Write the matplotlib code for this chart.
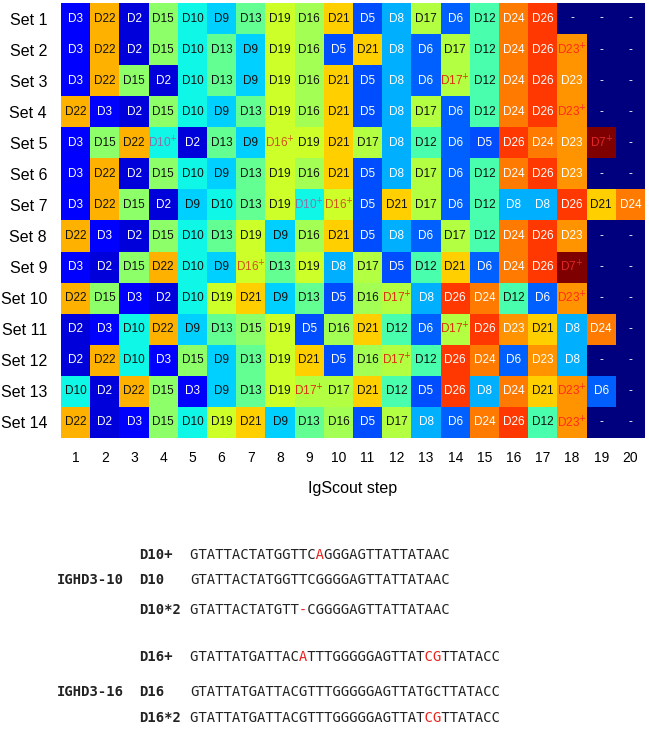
import matplotlib
matplotlib.use("Agg")
import matplotlib.pyplot as plt
import numpy as np

plt.rcParams['font.family'] = ['Liberation Sans', 'DejaVu Sans']

# heatmap data: gene picked at each IgScout step for each set
sets = ['Set %d' % i for i in range(1, 15)]
steps = [str(i) for i in range(1, 21)]

set_genes = [
    ['D3', 'D22', 'D2', 'D15', 'D10', 'D9', 'D13', 'D19', 'D16', 'D21', 'D5', 'D8', 'D17', 'D6', 'D12', 'D24', 'D26', '-', '-', '-'],
    ['D3', 'D22', 'D2', 'D15', 'D10', 'D13', 'D9', 'D19', 'D16', 'D5', 'D21', 'D8', 'D6', 'D17', 'D12', 'D24', 'D26', 'D23+', '-', '-'],
    ['D3', 'D22', 'D15', 'D2', 'D10', 'D13', 'D9', 'D19', 'D16', 'D21', 'D5', 'D8', 'D6', 'D17+', 'D12', 'D24', 'D26', 'D23', '-', '-'],
    ['D22', 'D3', 'D2', 'D15', 'D10', 'D9', 'D13', 'D19', 'D16', 'D21', 'D5', 'D8', 'D17', 'D6', 'D12', 'D24', 'D26', 'D23+', '-', '-'],
    ['D3', 'D15', 'D22', 'D10+', 'D2', 'D13', 'D9', 'D16+', 'D19', 'D21', 'D17', 'D8', 'D12', 'D6', 'D5', 'D26', 'D24', 'D23', 'D7+', '-'],
    ['D3', 'D22', 'D2', 'D15', 'D10', 'D9', 'D13', 'D19', 'D16', 'D21', 'D5', 'D8', 'D17', 'D6', 'D12', 'D24', 'D26', 'D23', '-', '-'],
    ['D3', 'D22', 'D15', 'D2', 'D9', 'D10', 'D13', 'D19', 'D10+', 'D16+', 'D5', 'D21', 'D17', 'D6', 'D12', 'D8', 'D8', 'D26', 'D21', 'D24'],
    ['D22', 'D3', 'D2', 'D15', 'D10', 'D13', 'D19', 'D9', 'D16', 'D21', 'D5', 'D8', 'D6', 'D17', 'D12', 'D24', 'D26', 'D23', '-', '-'],
    ['D3', 'D2', 'D15', 'D22', 'D10', 'D9', 'D16+', 'D13', 'D19', 'D8', 'D17', 'D5', 'D12', 'D21', 'D6', 'D24', 'D26', 'D7+', '-', '-'],
    ['D22', 'D15', 'D3', 'D2', 'D10', 'D19', 'D21', 'D9', 'D13', 'D5', 'D16', 'D17+', 'D8', 'D26', 'D24', 'D12', 'D6', 'D23+', '-', '-'],
    ['D2', 'D3', 'D10', 'D22', 'D9', 'D13', 'D15', 'D19', 'D5', 'D16', 'D21', 'D12', 'D6', 'D17+', 'D26', 'D23', 'D21', 'D8', 'D24', '-'],
    ['D2', 'D22', 'D10', 'D3', 'D15', 'D9', 'D13', 'D19', 'D21', 'D5', 'D16', 'D17+', 'D12', 'D26', 'D24', 'D6', 'D23', 'D8', '-', '-'],
    ['D10', 'D2', 'D22', 'D15', 'D3', 'D9', 'D13', 'D19', 'D17+', 'D17', 'D21', 'D12', 'D5', 'D26', 'D8', 'D24', 'D21', 'D23+', 'D6', '-'],
    ['D22', 'D2', 'D3', 'D15', 'D10', 'D19', 'D21', 'D9', 'D13', 'D16', 'D5', 'D17', 'D8', 'D6', 'D24', 'D26', 'D12', 'D23+', '-', '-'],
]

# position of each gene on the jet colour scale
gene_names = ['-', 'D2', 'D3', 'D5', 'D6', 'D8', 'D9', 'D10', 'D10+', 'D12', 'D13',
              'D15', 'D16', 'D16+', 'D17', 'D17+', 'D19', 'D21', 'D22', 'D23', 'D23+',
              'D24', 'D26', 'D7+']
gene_values = [0.0, 0.08, 0.12, 0.2, 0.22, 0.3, 0.33, 0.37, 0.37, 0.44, 0.47,
               0.52, 0.55, 0.6, 0.57, 0.57, 0.6, 0.69, 0.72, 0.75, 0.75,
               0.78, 0.85, 1.0]
dark_text = ['D9', 'D10', 'D12', 'D13', 'D15', 'D16', 'D17', 'D19', 'D21', 'D22']
plus_text_colors = {'D10+': '#8a72a6', 'D16+': '#d2521e', 'D17+': '#dd3010',
                    'D23+': '#ff2a1a', 'D7+': '#e02828'}

# alignment data
seq_groups = ['IGHD3-10', 'IGHD3-16']
seq_names = [['D10+', 'D10', 'D10*2'], ['D16+', 'D16', 'D16*2']]
seqs = [['GTATTACTATGGTTCAGGGAGTTATTATAAC',
         'GTATTACTATGGTTCGGGGAGTTATTATAAC',
         'GTATTACTATGTT-CGGGGAGTTATTATAAC'],
        ['GTATTATGATTACATTTGGGGGAGTTATCGTTATACC',
         'GTATTATGATTACGTTTGGGGGAGTTATGCTTATACC',
         'GTATTATGATTACGTTTGGGGGAGTTATCGTTATACC']]
red_positions = [[[15], [], [13]], [[13, 28, 29], [], [28, 29]]]

W, H = 649, 731
fig = plt.figure(figsize=(W / 100, H / 100), dpi=100)

ax = fig.add_axes([61 / W, 1 - 438 / H, 584 / W, 435 / H])
lookup = dict(zip(gene_names, gene_values))
grid = np.array([[lookup[g] for g in row] for row in set_genes])
ax.imshow(grid, cmap='jet', vmin=0, vmax=1, aspect='auto', interpolation='nearest')

for i, row in enumerate(set_genes):
    for j, g in enumerate(row):
        if g.endswith('+'):
            label = g[:-1] + r'$^{+}$'
            col = plus_text_colors[g]
        else:
            label = g
            col = '#111111' if g in dark_text else 'white'
        ax.text(j, i, label, ha='center', va='center', fontsize=8.5, color=col)

ax.set_xticks(range(len(steps)))
ax.set_xticklabels(steps, fontsize=10)
ax.set_yticks(range(len(sets)))
ax.set_yticklabels(sets, fontsize=11.5)
ax.tick_params(axis='x', length=0, pad=9)
ax.tick_params(axis='y', length=0, pad=10)
for s in ax.spines.values():
    s.set_visible(False)
ax.set_xlabel('IgScout step', fontsize=11.5, labelpad=12)

# alignment block
mono = 'DejaVu Sans Mono'
row_y = [[555, 580, 610], [657, 692, 718]]
for k in range(2):
    fig.text(57 / W, 1 - row_y[k][1] / H, seq_groups[k], family=mono, weight='bold',
             fontsize=10, va='center', ha='left', color='#222222')
    for r in range(3):
        y = 1 - row_y[k][r] / H
        fig.text(139 / W, y, seq_names[k][r], family=mono, weight='bold',
                 fontsize=10, va='center', ha='left', color='#222222')
        s = seqs[k][r]
        black = ''.join(' ' if n in red_positions[k][r] else c for n, c in enumerate(s))
        red = ''.join(c if n in red_positions[k][r] else ' ' for n, c in enumerate(s))
        fig.text(190 / W, y, black, family=mono, fontsize=10, va='center', ha='left', color='#222222')
        fig.text(190 / W, y, red, family=mono, fontsize=10, va='center', ha='left', color='#e8221c')

fig.savefig('out.png', dpi=100)
